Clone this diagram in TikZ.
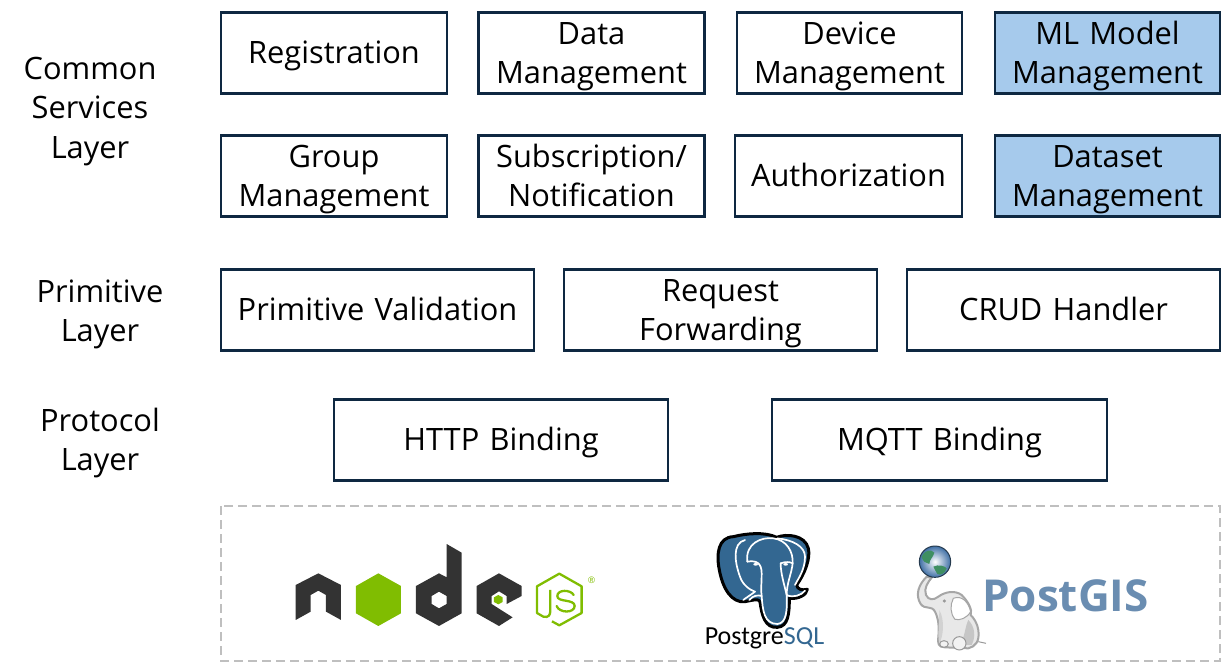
\documentclass[tikz,border=0pt]{standalone}
\usepackage{fontspec}
\setmainfont{Open Sans}
\newfontfamily\pgfont{Carlito}
\definecolor{navy}{HTML}{0E2841}
\definecolor{hl}{HTML}{A6CAEC}
\definecolor{dashgray}{HTML}{BFBFBF}
\definecolor{nodedark}{HTML}{333333}
\definecolor{nodegreen}{HTML}{80BD01}
\definecolor{pgblue}{HTML}{336791}
\definecolor{gisblue}{HTML}{6A8DB1}
\definecolor{globeblue}{HTML}{3F6FA5}
\definecolor{landgreen}{HTML}{3F8F62}
\newcommand\st{\rule[-8.4pt]{0pt}{38.4pt}}
\tikzset{
 lbl/.style={font=\fontsize{30.8}{39.5}\selectfont,align=center,text=black,inner sep=0pt},
 svc/.style={lbl,draw=navy,line width=2.4pt,fill=white,minimum height=81pt,text width=#1-4pt,minimum width=#1},
 hlsvc/.style={svc=#1,fill=hl},
 pgline/.style={draw=white,line width=1.7pt,line join=round,line cap=round}
}
\begin{document}
\begin{tikzpicture}[x=1pt,y=-1pt]
\useasboundingbox (0,0) rectangle (1224,664);
\node[lbl] (lcs) at (90,108) {\st Common\\\st Services\\\st Layer};
\node[lbl] (lpr) at (100,311) {\st Primitive\\\st Layer};
\node[lbl] (lpt) at (100,440) {\st Protocol\\\st Layer};
\node[svc=226pt] (reg) at (334,53) {\st Registration};
\node[svc=226pt] (dm) at (591.5,53) {\st Data\\\st Management};
\node[svc=225pt] (dev) at (849.5,53) {\st Device\\\st Management};
\node[hlsvc=225pt] (ml) at (1107.5,53) {\st ML Model\\\st Management};
\node[svc=226pt] (grp) at (334,176) {\st Group\\\st Management};
\node[svc=226pt] (sub) at (591.5,176) {\st Subscription/\\\st Notification};
\node[svc=227pt] (auth) at (848.5,176) {\st Authorization};
\node[hlsvc=225pt] (ds) at (1107.5,176) {\st Dataset\\\st Management};
\node[svc=313pt] (pv) at (377.5,310) {\st Primitive Validation};
\node[svc=313pt] (rf) at (720.5,310) {\st Request\\\st Forwarding};
\node[svc=313pt] (crud) at (1063.5,310) {\st CRUD Handler};
\node[svc=334pt] (http) at (501,440) {\st HTTP Binding};
\node[svc=335pt] (mqtt) at (939.5,440) {\st MQTT Binding};
\draw[dashgray,line width=2.4pt,dash pattern=on 9pt off 5pt] (221,506) rectangle (1220,661);
% node.js logo
\begin{scope}[shift={(280,520)},x=0.3333pt,y=-0.3333pt]
\fill[nodedark] (47,195)--(115,160)--(183,195)--(183,300)--(138,275)--(138,225)--(115,212)--(92,225)--(92,275)--(47,300)--cycle;
\fill[nodegreen] (295,160)--(363,198)--(363,280)--(295,318)--(228,280)--(228,198)--cycle;
\fill[nodedark,even odd rule] (500,72)--(545,98)--(545,280)--(477,318)--(408,280)--(408,198)--(477,160)--(500,172)--cycle (477,215)--(500,228)--(500,252)--(477,265)--(455,252)--(455,228)--cycle;
\fill[nodedark] (657,160)--(725,198)--(725,228)--(680,252)--(680,228)--(657,214)--(635,228)--(635,252)--(657,266)--(698,292)--(657,318)--(590,280)--(590,198)--cycle;
\fill[nodegreen] (655,225)--(668,232)--(668,246)--(655,253)--(642,246)--(642,232)--cycle;
\draw[nodegreen,line width=2.3pt,line join=round] (816,304)--(838,316)--(905,279)--(905,199)--(838,161)--(771,199)--(771,279)--(790,290)
 .. controls (806,294) and (811,285) .. (811,272)--(811,210);
\draw[nodegreen,line width=2.3pt,line cap=round] (881,225) .. controls (872,208) and (832,208) .. (832,228) .. controls (832,248) and (884,236) .. (884,258) .. controls (884,280) and (838,280) .. (830,258);
\node[text=nodegreen,font=\fontsize{9}{9}\selectfont,inner sep=0pt] (reg mark) at (935,180) {®};
\end{scope}
% PostgreSQL logo
\begin{scope}[shift={(690,520)},x=0.3333pt,y=-0.3333pt]
\path[fill=pgblue,draw=black,line width=3pt,line join=round]
 (130,50) .. controls (85,52) and (78,100) .. (88,150)
 .. controls (98,205) and (125,250) .. (165,245)
 .. controls (190,240) and (205,235) .. (210,245)
 .. controls (215,285) and (225,325) .. (262,322)
 .. controls (295,320) and (298,280) .. (298,235)
 .. controls (325,238) and (350,225) .. (352,208)
 .. controls (335,212) and (322,208) .. (320,195)
 .. controls (345,160) and (362,115) .. (355,85)
 .. controls (345,45) and (290,40) .. (260,52)
 .. controls (225,35) and (170,40) .. (130,50) -- cycle;
\draw[pgline] (165,60) .. controls (125,70) and (135,130) .. (150,170) .. controls (158,195) and (180,210) .. (195,215) .. controls (175,230) and (165,235) .. (160,240);
\draw[pgline] (178,240) .. controls (190,225) and (205,225) .. (215,228) .. controls (218,270) and (222,312) .. (262,312) .. controls (290,310) and (292,270) .. (290,225) .. controls (310,235) and (335,225) .. (345,212);
\draw[pgline] (172,125) .. controls (165,70) and (215,50) .. (250,55) .. controls (290,60) and (310,95) .. (308,130) .. controls (305,160) and (290,190) .. (290,225);
\draw[pgline] (172,125) .. controls (200,120) and (215,130) .. (215,160) .. controls (215,190) and (212,210) .. (215,228);
\draw[pgline] (272,130) .. controls (285,125) and (300,125) .. (308,130);
\draw[pgline] (272,130) .. controls (272,160) and (282,190) .. (290,225);
\draw[pgline] (262,55) .. controls (310,60) and (345,80) .. (345,110) .. controls (345,150) and (325,175) .. (315,195);
\fill[white] (197,133) ellipse (7 and 4);
\fill[white] (287,133) ellipse (7 and 4);
\end{scope}
\node[font=\pgfont\fontsize{26}{26}\selectfont,inner sep=0pt,text=black] (pgname) at (764.5,638) {Postgre\textcolor{pgblue}{SQL}};
% PostGIS logo
\begin{scope}[shift={(900,530)},x=0.3333pt,y=-0.3333pt]
\draw[gray!70,fill=gray!18,line width=2pt] (80,140) .. controls (55,165) and (45,195) .. (62,222) .. controls (75,240) and (95,225) .. (105,245) .. controls (115,265) and (118,290) .. (115,320) .. controls (112,340) and (115,352) .. (135,352) -- (205,355) .. controls (225,350) and (240,335) .. (235,300) .. controls (232,280) and (222,265) .. (212,255) .. controls (218,240) and (205,215) .. (185,195) .. controls (165,180) and (135,185) .. (115,200) .. controls (100,212) and (85,210) .. (78,195) .. controls (70,175) and (85,155) .. (95,143) -- cycle;
\fill[gray!45] (205,270) .. controls (225,290) and (228,320) .. (215,345) -- (180,345) .. controls (195,320) and (195,290) .. (205,270) -- cycle;
\fill[gray!35] (118,240) .. controls (135,270) and (130,320) .. (118,340) .. controls (112,320) and (118,270) .. (118,240) -- cycle;
\draw[gray!70,fill=white,line width=1pt] (160,205) .. controls (185,195) and (205,215) .. (212,245) .. controls (200,265) and (180,272) .. (165,268) .. controls (150,250) and (150,225) .. (160,205) -- cycle;
\fill[gray!80] (133,213) circle (5);
\draw[gray!80,fill=gray!10,line width=1pt] (178,340) circle (20);
\draw[gray!80,fill=gray!10,line width=1pt] (132,342) ellipse (13 and 10);
\draw[gray!80,line width=1pt] (235,335) -- (258,340);
\shade[inner color=white,outer color=globeblue] (105,95) circle (47);
\draw[navy!80!gray,line width=1pt] (105,95) circle (47);
\fill[landgreen] (65,80) .. controls (72,62) and (92,55) .. (103,68) .. controls (100,82) and (88,88) .. (88,102) .. controls (78,100) and (68,95) .. (65,80) -- cycle;
\fill[landgreen] (100,110) .. controls (115,102) and (135,108) .. (140,115) .. controls (135,130) and (122,138) .. (112,132) .. controls (108,122) and (102,118) .. (100,110) -- cycle;
\end{scope}
\node[font=\bfseries\fontsize{44}{44}\selectfont,text=gisblue,inner sep=0pt] (gisname) at (1065.5,596) {PostGIS};
\end{tikzpicture}
\end{document}
